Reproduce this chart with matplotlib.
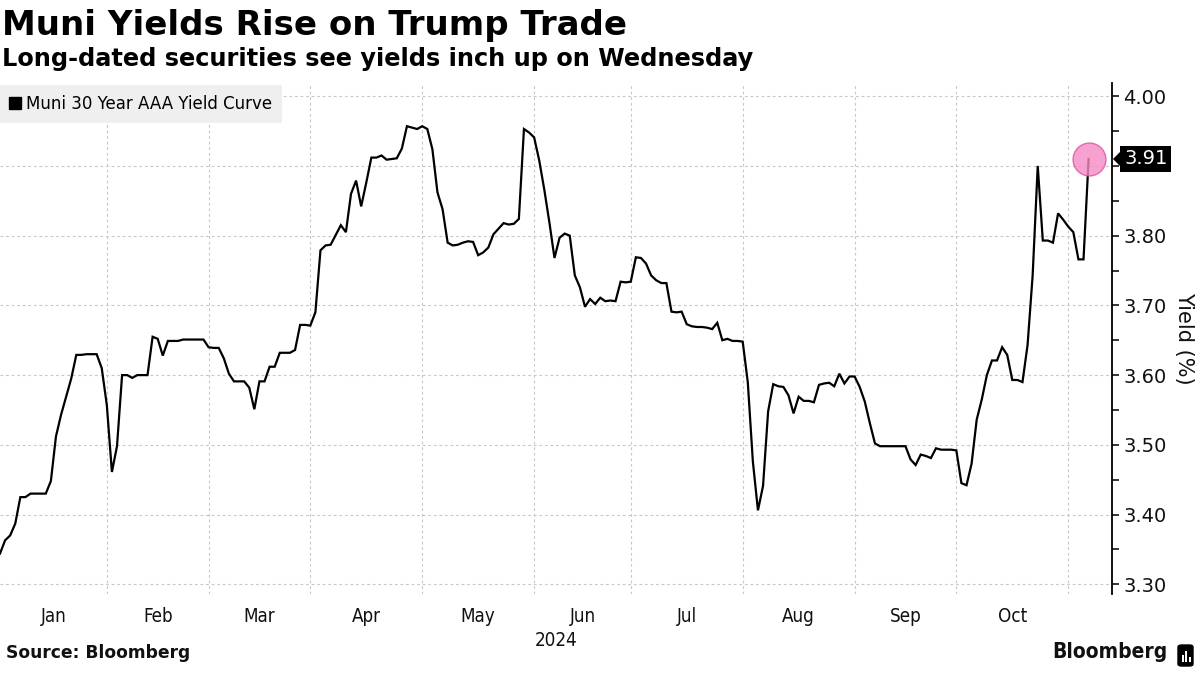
import numpy as np
import pandas as pd
import matplotlib
matplotlib.use("Agg")
import matplotlib.pyplot as plt
from matplotlib.ticker import MultipleLocator, FixedLocator
from matplotlib.patches import FancyBboxPatch, Polygon, Rectangle
from matplotlib.lines import Line2D

# ---------------- data ----------------
title = "Muni Yields Rise on Trump Trade"
subtitle = "Long-dated securities see yields inch up on Wednesday"
series_name = "Muni 30 Year AAA Yield Curve"
source = "Source: Bloomberg"
year_label = "2024"
y_label = "Yield (%)"

# one value per trading day, starting 2024-01-02
yields = [
    3.344, 3.363, 3.370, 3.387, 3.425, 3.425, 3.430, 3.430, 3.430, 3.430,
    3.448, 3.512, 3.543, 3.569, 3.595, 3.629, 3.629, 3.630, 3.630, 3.630,
    3.610, 3.557, 3.461, 3.498, 3.600, 3.600, 3.596, 3.600, 3.600, 3.600,
    3.655, 3.652, 3.628, 3.649, 3.649, 3.649, 3.651, 3.651, 3.651, 3.651,
    3.651, 3.640, 3.639, 3.639, 3.624, 3.602, 3.591, 3.591, 3.591, 3.582,
    3.551, 3.591, 3.591, 3.612, 3.612, 3.632, 3.632, 3.632, 3.636, 3.672,
    3.672, 3.671, 3.690, 3.779, 3.786, 3.787, 3.801, 3.815, 3.805, 3.860,
    3.879, 3.842, 3.876, 3.912, 3.912, 3.915, 3.909, 3.910, 3.911, 3.925,
    3.957, 3.955, 3.953, 3.957, 3.953, 3.924, 3.862, 3.838, 3.790, 3.786,
    3.787, 3.790, 3.792, 3.791, 3.772, 3.776, 3.783, 3.802, 3.810, 3.818,
    3.816, 3.817, 3.824, 3.953, 3.948, 3.941, 3.908, 3.866, 3.819, 3.768,
    3.797, 3.803, 3.800, 3.743, 3.726, 3.698, 3.709, 3.702, 3.711, 3.706,
    3.707, 3.706, 3.734, 3.733, 3.734, 3.769, 3.768, 3.760, 3.743, 3.736,
    3.732, 3.732, 3.691, 3.690, 3.691, 3.673, 3.670, 3.669, 3.669, 3.668,
    3.666, 3.675, 3.650, 3.652, 3.649, 3.649, 3.648, 3.590, 3.476, 3.406,
    3.441, 3.548, 3.587, 3.584, 3.583, 3.571, 3.545, 3.569, 3.563, 3.563,
    3.561, 3.586, 3.588, 3.589, 3.584, 3.602, 3.588, 3.598, 3.598, 3.583,
    3.562, 3.531, 3.502, 3.498, 3.498, 3.498, 3.498, 3.498, 3.498, 3.479,
    3.471, 3.486, 3.484, 3.481, 3.495, 3.493, 3.493, 3.493, 3.492, 3.445,
    3.442, 3.473, 3.536, 3.565, 3.600, 3.621, 3.621, 3.640, 3.629, 3.593,
    3.593, 3.590, 3.643, 3.743, 3.900, 3.793, 3.793, 3.790, 3.832, 3.823,
    3.813, 3.805, 3.766, 3.766, 3.910,
]
last_label = "3.91"
market_holidays = ["2024-01-01", "2024-01-15", "2024-02-19", "2024-03-29",
                   "2024-05-27", "2024-06-19", "2024-07-04", "2024-09-02",
                   "2024-10-14"]
month_names = ["Jan", "Feb", "Mar", "Apr", "May", "Jun", "Jul", "Aug", "Sep", "Oct"]
y_ticks = [3.30, 3.40, 3.50, 3.60, 3.70, 3.80, 3.90, 4.00]

# ---------------- trading-day axis ----------------
days = pd.bdate_range("2024-01-02", periods=len(yields), freq="C",
                      holidays=market_holidays)
x = np.arange(len(yields))
month_keys = days.to_period("M")
month_starts = [int(np.argmax(month_keys == p)) for p in month_keys.unique()]
label_pos = [(month_starts[i] + month_starts[i + 1]) / 2.0 for i in range(len(month_names))]

# ---------------- figure ----------------
W, H = 1200, 675
fig = plt.figure(figsize=(W / 100, H / 100), dpi=100)
fig.patch.set_facecolor("white")

ax_left, ax_right, ax_top, ax_bot = 0, 1112, 83, 594
ax = fig.add_axes([ax_left / W, 1 - ax_bot / H, (ax_right - ax_left) / W, (ax_bot - ax_top) / H])

ax.plot(x, yields, color="black", lw=1.6, solid_joinstyle="miter", zorder=3)

ylo, yhi = 3.286, 4.019
ax.set_xlim(0, 218.6)
ax.set_ylim(ylo, yhi)

# grid
for yt in y_ticks:
    ax.axhline(yt, color="#c8c8c8", lw=0.8, ls=(0, (2.5, 2.5)), zorder=1)
for ms in month_starts[1:]:
    ax.axvline(ms, color="#c8c8c8", lw=0.8, ls=(0, (2.5, 2.5)), zorder=1)

for s in ["left", "top", "bottom"]:
    ax.spines[s].set_visible(False)
ax.spines["right"].set_linewidth(1.3)
ax.spines["right"].set_color("black")

# y axis on right (3.90 sits under the value badge)
ax.yaxis.tick_right()
ax.yaxis.set_major_locator(FixedLocator(y_ticks))
ax.yaxis.set_minor_locator(MultipleLocator(0.05))
ax.set_yticklabels(["" if abs(v - 3.90) < 1e-9 else f"{v:.2f}" for v in y_ticks])
ax.tick_params(axis="y", which="both", direction="out", length=5, width=1.1,
               color="black", labelsize=14, pad=3, labelcolor="#111111")
ax.yaxis.set_label_position("right")
ax.set_ylabel(y_label, rotation=270, fontsize=15, labelpad=20, color="#111111")

# x axis: month labels centered in month spans
ax.set_xticks(label_pos)
ax.set_xticklabels(month_names)
ax.tick_params(axis="x", length=0, labelsize=13.5, pad=9, labelcolor="#111111")
for t in ax.get_xticklabels():
    t.set_fontstretch("condensed")
ax.text(0.5, -0.072, year_label, transform=ax.transAxes, ha="center", va="top",
        fontsize=13.5, color="#111111", fontstretch="condensed")

# legend
handle = Line2D([0], [0], marker="s", color="none", markerfacecolor="black",
                markeredgecolor="black", markersize=8)
leg = ax.legend([handle], [series_name], loc="upper left", bbox_to_anchor=(0, 0.996),
                frameon=True, fancybox=False, facecolor="#efefef", edgecolor="none",
                fontsize=12, handlelength=0.6, handletextpad=0.35, borderpad=0.6,
                borderaxespad=0, framealpha=1)
leg.get_frame().set_linewidth(0)

# highlight last point
ax.scatter([x[-1]], [yields[-1]], s=560, facecolor="#f58ac6", edgecolor="#d9559c",
           alpha=0.8, lw=1.0, zorder=4, clip_on=False)

# value badge with a small left-pointing notch at the axis
yc = ax_top + (yhi - yields[-1]) / (yhi - ylo) * (ax_bot - ax_top)  # pixel from top
bx0, bx1, bh = 1120, 1171, 26
tip = 1113
pts_px = [(tip, yc), (bx0, yc - 7), (bx0, yc - bh / 2), (bx1, yc - bh / 2),
          (bx1, yc + bh / 2), (bx0, yc + bh / 2), (bx0, yc + 7)]
pts = [(px / W, 1 - py / H) for px, py in pts_px]
fig.patches.append(Polygon(pts, closed=True, transform=fig.transFigure,
                           fc="black", ec="none", zorder=10))
fig.text((bx0 + bx1) / 2 / W + 0.0005, 1 - yc / H, last_label, fontsize=14,
         color="white", ha="center", va="center", zorder=11)

# titles
fig.text(0.002, 0.962, title, fontsize=24.5, fontweight="bold", ha="left", va="center")
fig.text(0.002, 0.912, subtitle, fontsize=17.3, fontweight="bold", ha="left", va="center")

# footer
fig.text(0.005, 0.019, source, fontsize=12.3, fontweight="bold", ha="left",
         va="bottom", color="#111111")
fig.text(0.973, 0.019, "Bloomberg", fontsize=15, fontweight="bold", ha="right",
         va="bottom", fontstretch="condensed", color="#111111")
logo = FancyBboxPatch((1178 / W, 9 / H), 15 / W, 21 / H,
                      boxstyle="round,pad=0,rounding_size=0.003",
                      transform=fig.transFigure, fc="black", ec="black")
fig.patches.append(logo)
for i, hgt in enumerate([7, 11, 5]):
    fig.patches.append(Rectangle(((1181.5 + i * 3.5) / W, 13 / H), 2 / W, hgt / H,
                                 transform=fig.transFigure, fc="white", ec="none",
                                 zorder=12))

fig.savefig("out.png", dpi=100, facecolor="white")
